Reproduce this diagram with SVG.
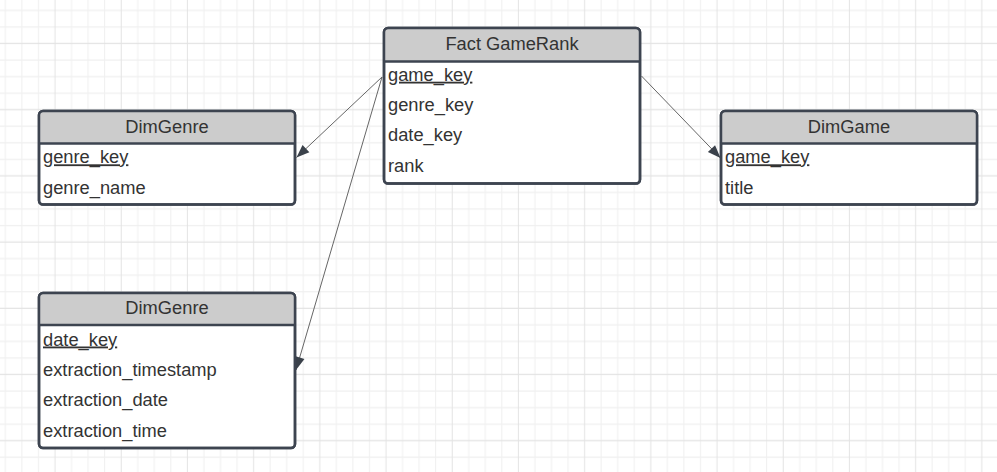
<svg xmlns="http://www.w3.org/2000/svg" width="997" height="472" viewBox="0 0 997 472">
  <defs>
    <pattern id="grid" patternUnits="userSpaceOnUse" x="46.725" y="366.225" width="66.2" height="66.2">
      <path d="M24.825 0V66.2M41.375 0V66.2M57.925 0V66.2M0 24.825H66.2M0 41.375H66.2M0 57.925H66.2" stroke="#f0f0f0" stroke-width="1" fill="none"/>
      <path d="M8.275 0V66.2M0 8.275H66.2" stroke="#e3e3e3" stroke-width="1" fill="none"/>
    </pattern>
    <marker id="arrow" markerUnits="userSpaceOnUse" markerWidth="13" markerHeight="10" refX="13" refY="5" orient="auto" overflow="visible">
      <path d="M0 0L13 5L0 10Z" fill="#3a414a"/>
    </marker>
  </defs>
  <style>
    .box { fill: #ffffff; stroke: #3d4450; stroke-width: 2.5; }
    .hdr { fill: #cccccc; stroke: none; }
    .div { stroke: #3d4450; stroke-width: 2.5; }
    .title { font-family: "Liberation Sans", Arial, sans-serif; font-size: 18.3px; fill: #333333; text-anchor: middle; }
    .row { font-family: "Liberation Sans", Arial, sans-serif; font-size: 18.3px; fill: #333333; }
    .key { text-decoration: underline; }
    .conn { stroke: #666666; stroke-width: 1; fill: none; marker-end: url(#arrow); }
  </style>
  <rect x="0" y="0" width="997" height="472" fill="#ffffff"/>
  <rect x="0" y="0" width="997" height="472" fill="url(#grid)"/>

  <g id="connectors">
    <path class="conn" d="M382 77L296.5 157.5"/>
    <path class="conn" d="M382 77L296 370"/>
    <path class="conn" d="M641.5 76L720.5 158"/>
  </g>

  <g id="fact-gamerank">
    <rect class="box" x="384" y="28" width="256" height="155.5" rx="4"/>
    <path class="hdr" d="M385.25 61.5V32Q385.25 29.25 388 29.25H636Q638.75 29.25 638.75 32V61.5Z"/>
    <line class="div" x1="384" y1="61.5" x2="640" y2="61.5"/>
    <rect x="384" y="28" width="256" height="155.5" rx="4" fill="none" stroke="#3d4450" stroke-width="2.5"/>
    <text class="title" x="512" y="49.5">Fact GameRank</text>
    <text class="row key" x="388" y="80.7">game_key</text>
    <text class="row" x="388" y="111">genre_key</text>
    <text class="row" x="388" y="141.3">date_key</text>
    <text class="row" x="388" y="171.6">rank</text>
  </g>

  <g id="dim-genre">
    <rect class="box" x="39" y="111" width="256" height="93.5" rx="4"/>
    <path class="hdr" d="M40.25 143.5V115Q40.25 112.25 43 112.25H291Q293.75 112.25 293.75 115V143.5Z"/>
    <line class="div" x1="39" y1="143.5" x2="295" y2="143.5"/>
    <rect x="39" y="111" width="256" height="93.5" rx="4" fill="none" stroke="#3d4450" stroke-width="2.5"/>
    <text class="title" x="167" y="132.5">DimGenre</text>
    <text class="row key" x="43" y="163.3">genre_key</text>
    <text class="row" x="43" y="193.5">genre_name</text>
  </g>

  <g id="dim-game">
    <rect class="box" x="721" y="111" width="256" height="93.5" rx="4"/>
    <path class="hdr" d="M722.25 143.5V115Q722.25 112.25 725 112.25H973Q975.75 112.25 975.75 115V143.5Z"/>
    <line class="div" x1="721" y1="143.5" x2="977" y2="143.5"/>
    <rect x="721" y="111" width="256" height="93.5" rx="4" fill="none" stroke="#3d4450" stroke-width="2.5"/>
    <text class="title" x="849" y="132.5">DimGame</text>
    <text class="row key" x="725" y="163.3">game_key</text>
    <text class="row" x="725" y="193.5">title</text>
  </g>

  <g id="dim-date">
    <rect class="box" x="39" y="293" width="256" height="155" rx="4"/>
    <path class="hdr" d="M40.25 325V297Q40.25 294.25 43 294.25H291Q293.75 294.25 293.75 297V325Z"/>
    <line class="div" x1="39" y1="325" x2="295" y2="325"/>
    <rect x="39" y="293" width="256" height="155" rx="4" fill="none" stroke="#3d4450" stroke-width="2.5"/>
    <text class="title" x="167" y="313.5">DimGenre</text>
    <text class="row key" x="43" y="345.5">date_key</text>
    <text class="row" x="43" y="375.8">extraction_timestamp</text>
    <text class="row" x="43" y="406">extraction_date</text>
    <text class="row" x="43" y="436.5">extraction_time</text>
  </g>
</svg>
